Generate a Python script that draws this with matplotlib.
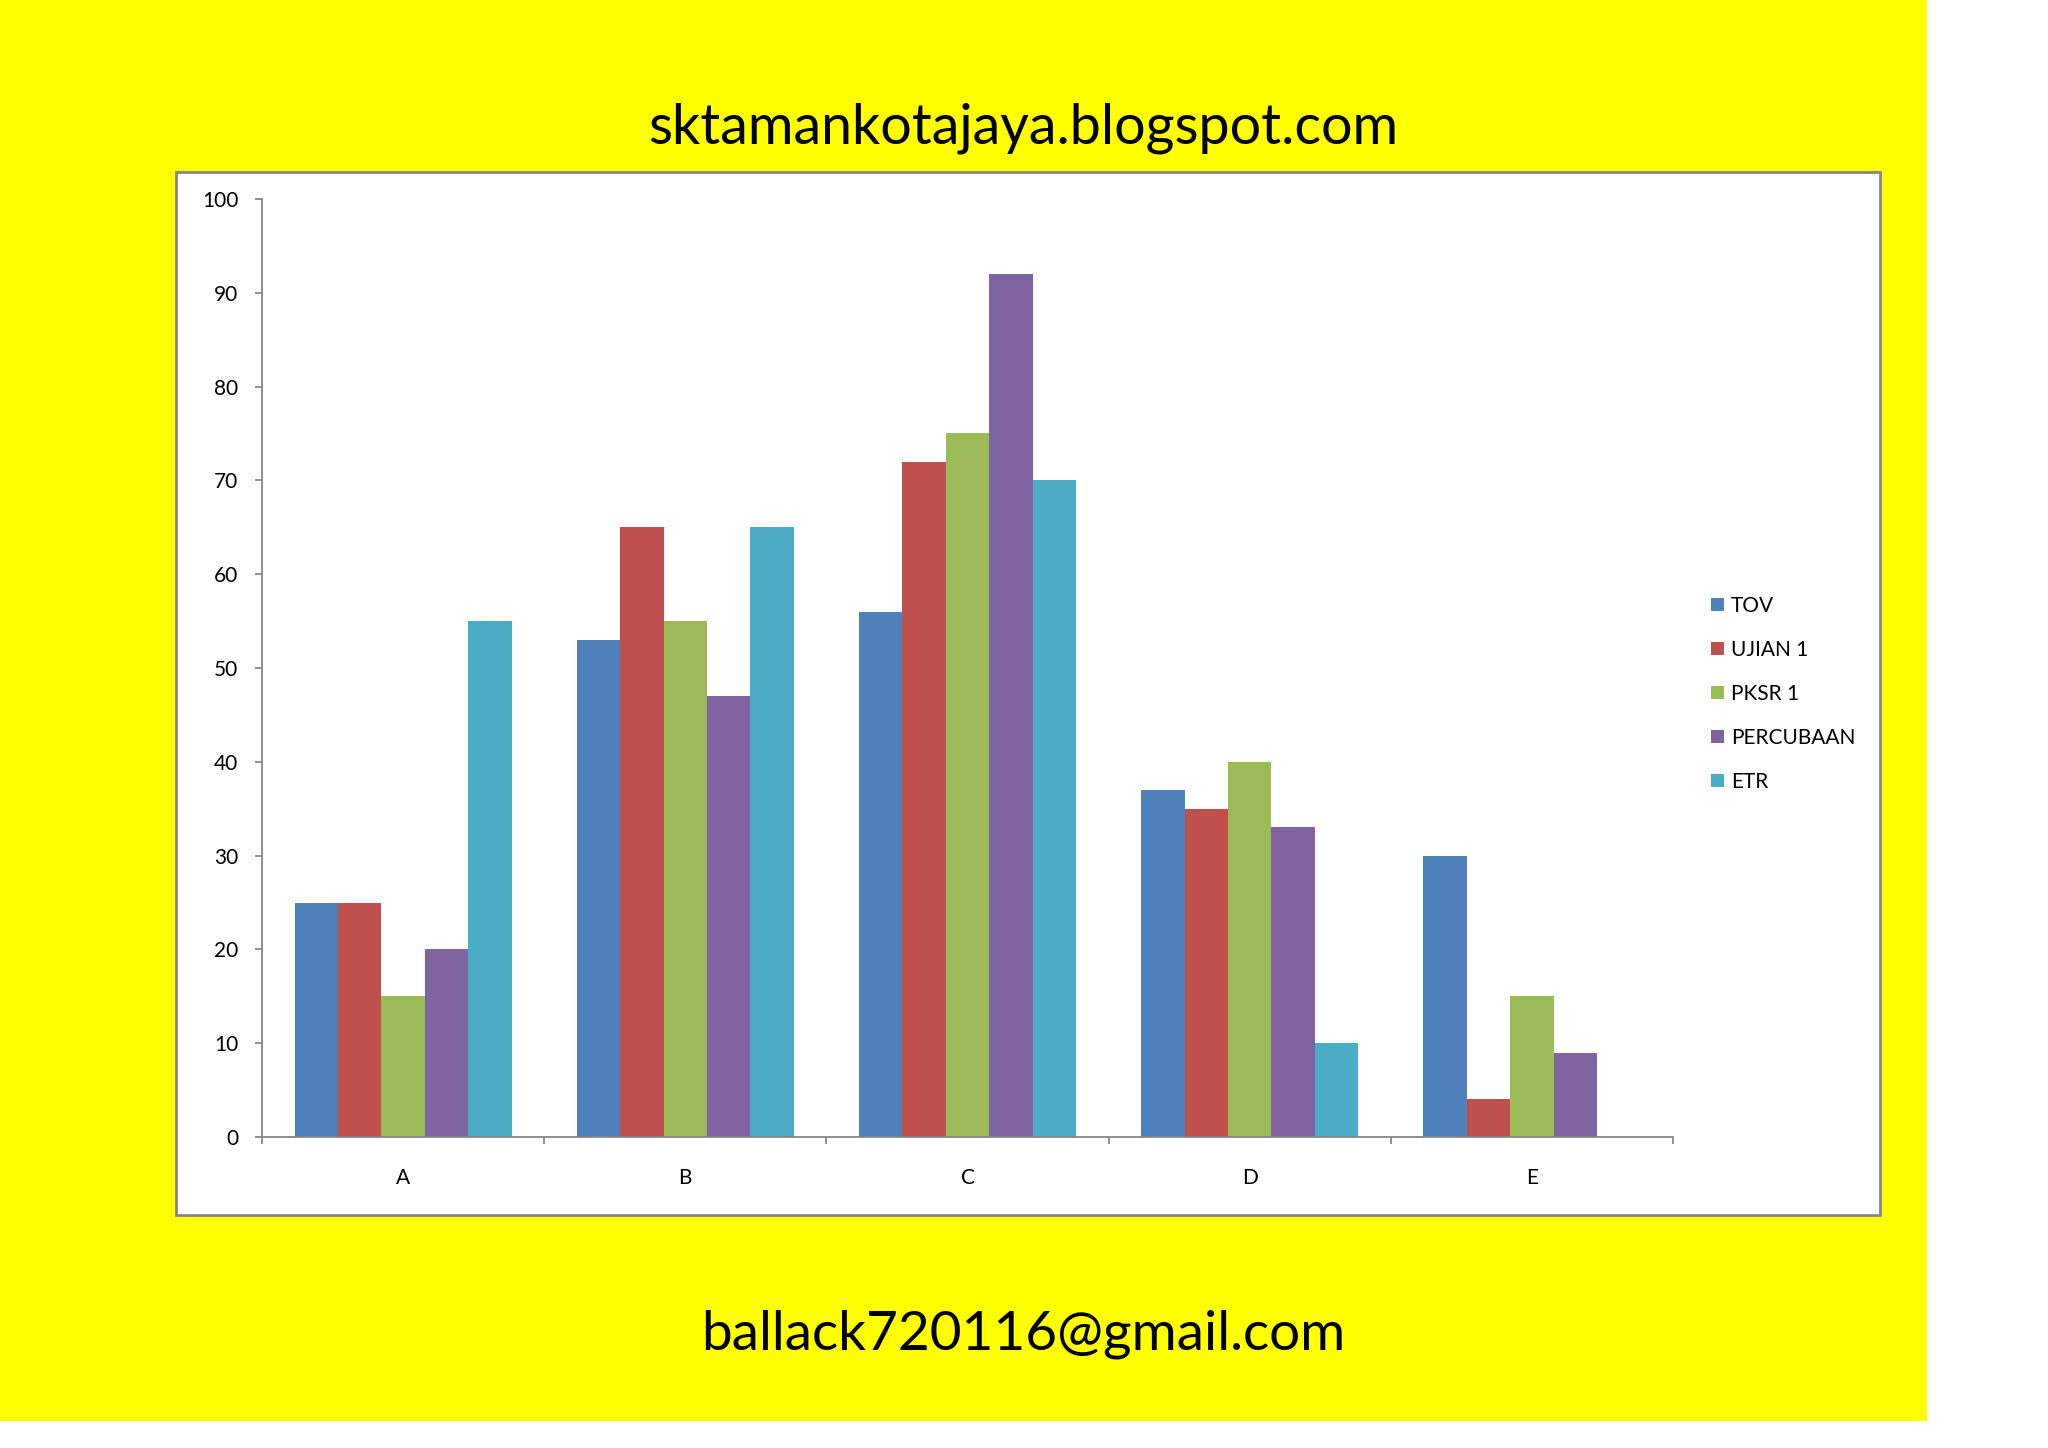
import numpy as np
import matplotlib
matplotlib.use("Agg")
import matplotlib.pyplot as plt
from matplotlib.patches import Rectangle, Patch


# ----- DATA -----
grades = ["A", "B", "C", "D", "E"]
series_names = ["TOV", "UJIAN 1", "PKSR 1", "PERCUBAAN", "ETR"]
tov = [25, 53, 56, 37, 30]
ujian1 = [25, 65, 72, 35, 4]
pksr1 = [15, 55, 75, 40, 15]
percubaan = [20, 47, 92, 33, 9]
etr = [55, 65, 70, 10, 0]
series_values = [tov, ujian1, pksr1, percubaan, etr]

colors = ["#4F81BD", "#C0504D", "#9BBB59", "#8064A2", "#4BACC6"]
axis_grey = "#868686"

title_text = "sktamankotajaya.blogspot.com"
footer_text = "ballack720116@gmail.com"

plt.rcParams["font.family"] = ["Lato", "DejaVu Sans"]

W, H = 2048, 1448
fig = plt.figure(figsize=(W / 100, H / 100), dpi=100, facecolor="white")

# yellow page background and white chart area (pixel coords -> figure coords)
def px_rect(x0, y0, x1, y1, **kw):
    return Rectangle((x0 / W, 1 - y1 / H), (x1 - x0) / W, (y1 - y0) / H,
                     transform=fig.transFigure, **kw)

fig.patches.append(px_rect(0, 0, 1927, 1421, facecolor="#FFFF00", edgecolor="none", zorder=0))
fig.patches.append(px_rect(176, 172, 1880, 1215, facecolor="white",
                           edgecolor=axis_grey, linewidth=2, zorder=1))

# ----- BAR CHART -----
ax = fig.add_axes([262 / W, 1 - 1137 / H, (1673 - 262) / W, (1137 - 199) / H])
ax.set_facecolor("none")
ax.set_zorder(2)

x = np.arange(len(grades)) + 0.5
bar_w = 1 / 6.5  # Excel gap width 150%
for j, (vals, name) in enumerate(zip(series_values, series_names)):
    ax.bar(x + (j - 2) * bar_w, vals, width=bar_w, color=colors[j],
           label=name, linewidth=0)

ax.set_xlim(0, len(grades))
ax.set_ylim(0, 100)
ax.set_yticks(np.arange(0, 101, 10))
ax.set_xticks(np.arange(0, len(grades) + 1))
ax.set_xticklabels([])
ax.set_xticks(x, minor=True)
ax.set_xticklabels(grades, minor=True)

for s in ["top", "right"]:
    ax.spines[s].set_visible(False)
for s in ["left", "bottom"]:
    ax.spines[s].set_color(axis_grey)
    ax.spines[s].set_linewidth(1.3)

ax.tick_params(axis="y", direction="out", length=5, width=1.3, color=axis_grey,
               labelsize=15, pad=12)
ax.tick_params(axis="x", which="major", direction="out", length=5, width=1.3,
               color=axis_grey)
ax.tick_params(axis="x", which="minor", length=0, labelsize=15, pad=22)

handles = [Patch(facecolor=c, edgecolor="none") for c in colors]
ax.legend(handles, series_names, loc="center left",
          bbox_to_anchor=(1711 / W, 1 - 694 / H), bbox_transform=fig.transFigure,
          frameon=False, fontsize=15, handlelength=0.6, handleheight=0.6,
          handletextpad=0.35, labelspacing=1.15, borderpad=0, borderaxespad=0)

# ----- PAGE TEXT -----
fig.text(1023 / W, 1 - 128 / H, title_text, ha="center", va="center", fontsize=40)
fig.text(1023 / W, 1 - 1334 / H, footer_text, ha="center", va="center", fontsize=39.5)

fig.savefig("out.png", dpi=100, facecolor=fig.get_facecolor())
